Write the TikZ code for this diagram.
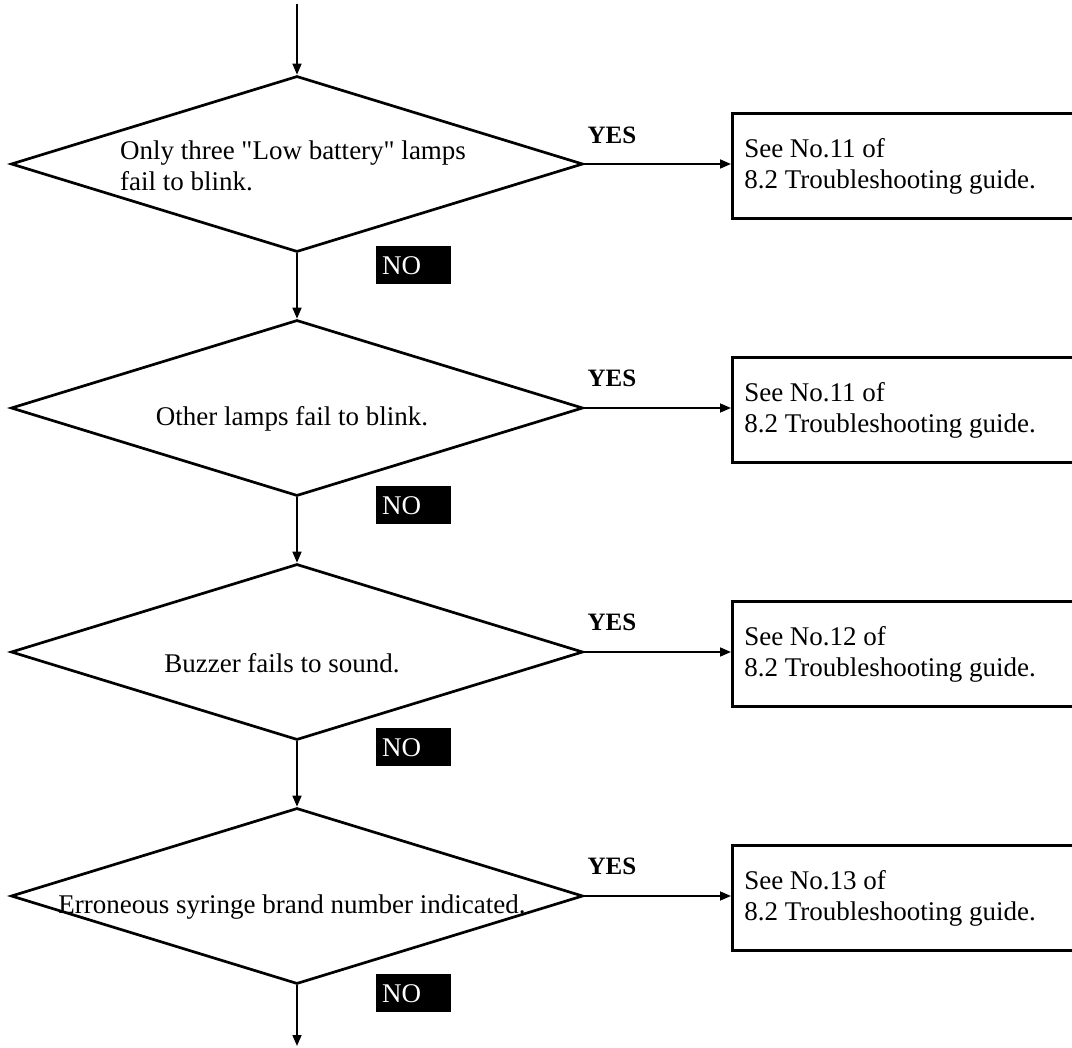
\documentclass[tikz,border=0pt]{standalone}
\usepackage{fontspec}
\setmainfont{Liberation Serif}
\usetikzlibrary{arrows.meta, shapes.geometric}

\begin{document}
\begin{tikzpicture}[
    x=1pt, y=-1pt,
    pergunta/.style={
        draw,
        diamond,
        line width=2.7pt,
        aspect=3.25,
        minimum width=572pt,
        minimum height=176pt,
        inner sep=0pt
    },
    texto/.style={
        font=\fontsize{27}{31}\selectfont,
        align=left,
        inner sep=0pt
    },
    resposta/.style={
        draw,
        line width=2.5pt,
        anchor=west,
        minimum height=105pt,
        text width=325pt,
        inner xsep=12pt,
        align=flush left,
        font=\fontsize{27}{31}\selectfont
    },
    sim/.style={
        font=\fontsize{25}{30}\selectfont\bfseries,
        inner sep=0pt
    },
    nao/.style={
        fill=black,
        text=white,
        anchor=north west,
        minimum height=38pt,
        text width=63pt,
        inner xsep=6pt,
        inner ysep=0pt,
        font=\fontsize{27}{31}\selectfont
    },
    seta/.style={
        -{Triangle[length=11pt,width=9pt]},
        line width=1.7pt
    }
]
\useasboundingbox (0,0) rectangle (1072,1048);
\clip (0,0) rectangle (1072,1048);

\coordinate (inicio) at (297,4);
\coordinate (fim) at (297,1046);

\node[pergunta] (q1) at (297,164) {};
\node[pergunta] (q2) at (297,408) {};
\node[pergunta] (q3) at (297,652) {};
\node[pergunta] (q4) at (297,896) {};

\node[texto] (t1) at (293,166)
{Only three \textquotedbl Low battery\textquotedbl{} lamps\\
fail to blink.};
\node[texto] (t2) at (292,419) {Other lamps fail to blink.};
\node[texto] (t3) at (282,663) {Buzzer fails to sound.};
\node[texto] (t4) at (292,907) {Erroneous syringe brand number indicated.};

\node[resposta] (r1) at (731,166)
{See No.11 of\\
8.2 Troubleshooting guide.};
\node[resposta] (r2) at (731,410)
{See No.11 of\\
8.2 Troubleshooting guide.};
\node[resposta] (r3) at (731,654)
{See No.12 of\\
8.2 Troubleshooting guide.};
\node[resposta] (r4) at (731,898)
{See No.13 of\\
8.2 Troubleshooting guide.};

\node[sim] (s1) at (612,135) {YES};
\node[sim] (s2) at (612,378) {YES};
\node[sim] (s3) at (612,622) {YES};
\node[sim] (s4) at (612,866) {YES};

\node[nao] (n1) at (376,246) {NO};
\node[nao] (n2) at (376,486) {NO};
\node[nao] (n3) at (376,728) {NO};
\node[nao] (n4) at (376,974) {NO};

\draw[seta] (inicio) -- (q1.north);
\draw[seta] (q1.south) -- (q2.north);
\draw[seta] (q2.south) -- (q3.north);
\draw[seta] (q3.south) -- (q4.north);
\draw[seta] (q4.south) -- (fim);

\draw[seta] (q1.east) -- (q1.east -| r1.west);
\draw[seta] (q2.east) -- (q2.east -| r2.west);
\draw[seta] (q3.east) -- (q3.east -| r3.west);
\draw[seta] (q4.east) -- (q4.east -| r4.west);

\end{tikzpicture}
\end{document}
